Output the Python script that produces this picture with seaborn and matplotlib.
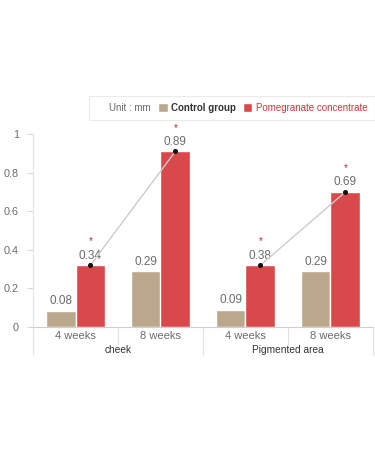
import matplotlib
matplotlib.use("Agg")
import matplotlib.pyplot as plt
import matplotlib.transforms as mtransforms
from matplotlib.patches import Patch
import seaborn as sns
import pandas as pd

# ---- data ----
regions = ["cheek", "Pigmented area"]
periods = ["4 weeks", "8 weeks"]
series = ["Control group", "Pomegranate concentrate"]
control_vals = [0.085, 0.29, 0.09, 0.29]
pomegranate_vals = [0.32, 0.91, 0.32, 0.70]
control_labels = ["0.08", "0.29", "0.09", "0.29"]
pomegranate_labels = ["0.34", "0.89", "0.38", "0.69"]
y_ticks = [0, 0.2, 0.4, 0.6, 0.8, 1]
y_tick_labels = ["0", "0.2", "0.4", "0.6", "0.8", "1"]
unit_text = "Unit : mm"

TAN = "#bba88c"
RED = "#d9494b"
GREY_TXT = "#6b6b6b"

sns.set_theme(style="white")
plt.rcParams["font.family"] = ["Liberation Sans", "DejaVu Sans"]

cats = [f"{r} {p}" for r in regions for p in periods]
df = pd.DataFrame({
    "cat": cats * 2,
    "series": [series[0]] * 4 + [series[1]] * 4,
    "value": control_vals + pomegranate_vals,
})

fig = plt.figure(figsize=(3.75, 4.5), dpi=100)
W, H = 375, 450
left_px, right_px, top_px, bottom_px = 33, 373, 134, 327
ax = fig.add_axes([left_px / W, 1 - bottom_px / H,
                   (right_px - left_px) / W, (bottom_px - top_px) / H])

sns.barplot(data=df, x="cat", y="value", hue="series", order=cats,
            hue_order=series, palette=[TAN, RED], width=0.7, gap=0,
            saturation=1, ax=ax, legend=False, errorbar=None)

ax.set_xlim(-0.5, 3.5)
ax.set_ylim(0, 1)
ax.set_xlabel("")
ax.set_ylabel("")

# y axis
ax.set_yticks(y_ticks)
ax.set_yticklabels(y_tick_labels, fontsize=7.8, color=GREY_TXT)
ax.tick_params(axis="y", length=4, width=0.8, color="#d8d8d8", pad=6, left=True)
# x axis
ax.set_xticks(range(len(cats)))
ax.set_xticklabels([p for r in regions for p in periods], fontsize=8, color=GREY_TXT)
ax.tick_params(axis="x", length=0, pad=3)

for s in ["top", "right"]:
    ax.spines[s].set_visible(False)
ax.spines["left"].set_color("#e4e4e4")
ax.spines["left"].set_linewidth(0.8)
ax.spines["bottom"].set_color("#cfcfcf")
ax.spines["bottom"].set_linewidth(0.8)

# category separators below axis
axh_px = bottom_px - top_px
btrans = mtransforms.blended_transform_factory(ax.transData, ax.transAxes)
for xb, depth in [(-0.5, 28), (0.5, 17), (1.5, 28), (2.5, 17), (3.5, 28)]:
    ax.plot([xb, xb], [0, -depth / axh_px], transform=btrans, color="#e2e2e2",
            lw=0.8, clip_on=False)
for i, r in enumerate(regions):
    ax.text(i * 2 + 0.5, -23 / axh_px, r, transform=btrans, ha="center",
            va="center", fontsize=7.3, color="#333333")

# value labels
off = 0.175
for i in range(len(cats)):
    ax.annotate(control_labels[i], (i - off, control_vals[i]), xytext=(0, 2.5),
                textcoords="offset points", ha="center", va="bottom",
                fontsize=8.5, color=GREY_TXT)
    ax.annotate(pomegranate_labels[i], (i + off, pomegranate_vals[i]), xytext=(0, 2.5),
                textcoords="offset points", ha="center", va="bottom",
                fontsize=8.5, color=GREY_TXT)
    ax.annotate("*", (i + off, pomegranate_vals[i]), xytext=(0, 13.5),
                textcoords="offset points", ha="center", va="bottom",
                fontsize=7, color="#b22a2a")

# trend lines with dots on red bars
for g in range(len(regions)):
    xs = [g * 2 + off, g * 2 + 1 + off]
    ys = [pomegranate_vals[g * 2], pomegranate_vals[g * 2 + 1]]
    ax.plot(xs, ys, color="#cccccc", lw=1.0, zorder=4)
    ax.plot(xs, ys, ls="none", marker="o", ms=2.6, color="#111111", zorder=5)

# legend
handles = [Patch(visible=False, label=unit_text),
           Patch(facecolor=TAN, label=series[0]),
           Patch(facecolor=RED, label=series[1])]
leg = fig.legend(handles=handles, loc="upper right",
                 bbox_to_anchor=(1.012, 1 - 91 / H), ncol=3, fontsize=7.0,
                 frameon=True, fancybox=False, handlelength=1.0,
                 handleheight=1.0, handletextpad=0.35, columnspacing=0.7,
                 borderpad=0.75)
leg.get_frame().set_edgecolor("#e6e6e6")
leg.get_frame().set_linewidth(0.8)
texts = leg.get_texts()
texts[0].set_color(GREY_TXT)
texts[1].set_color("#333333")
texts[1].set_fontweight("bold")
texts[2].set_color("#c23b3b")

fig.savefig("out.png", dpi=100)
